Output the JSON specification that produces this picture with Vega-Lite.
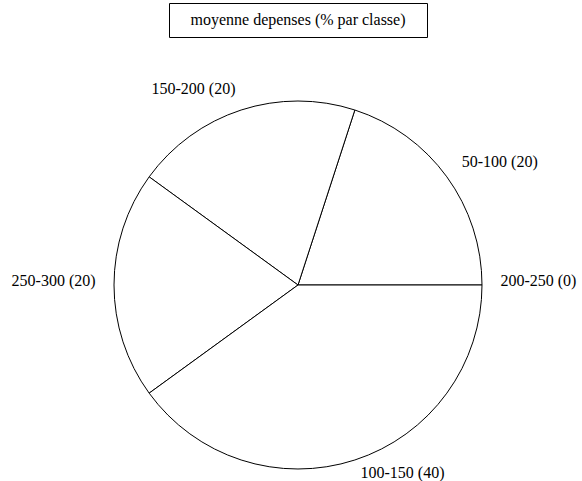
{
  "$schema": "https://vega.github.io/schema/vega-lite/v6.json",
  "padding": {"left": 11, "top": 2, "right": 0, "bottom": 0},
  "bounds": "flush",
  "center": true,
  "spacing": 52,
  "config": {
    "view": {"stroke": null},
    "font": "DejaVu Serif"
  },
  "vconcat": [
    {
      "width": 258,
      "height": 34,
      "view": {"stroke": "black", "strokeWidth": 1},
      "data": {"values": [{"t": "moyenne depenses (% par classe)"}]},
      "mark": {"type": "text", "font": "Liberation Serif", "fontSize": 16, "color": "black", "baseline": "middle", "align": "center"},
      "encoding": {"text": {"field": "t", "type": "nominal"}}
    },
    {
      "width": 568,
      "height": 392,
      "data": {
        "values": [
          {"classe": "200-250", "pct": 0, "ord": 1, "label": "200-250 (0)"},
          {"classe": "50-100", "pct": 20, "ord": 2, "label": "50-100 (20)"},
          {"classe": "150-200", "pct": 20, "ord": 3, "label": "150-200 (20)"},
          {"classe": "250-300", "pct": 20, "ord": 4, "label": "250-300 (20)"},
          {"classe": "100-150", "pct": 40, "ord": 5, "label": "100-150 (40)"}
        ]
      },
      "encoding": {
        "theta": {"field": "pct", "type": "quantitative", "stack": true, "scale": {"range": [1.5707963, -4.712389]}},
        "order": {"field": "ord", "type": "quantitative"}
      },
      "layer": [
        {
          "mark": {"type": "arc", "radius": 184, "fill": "white", "stroke": "black", "strokeWidth": 1}
        },
        {
          "mark": {
            "type": "text",
            "radius": 202.4,
            "dy": -4,
            "font": "Liberation Serif",
            "fontSize": 16,
            "color": "black",
            "baseline": "middle",
            "align": {"expr": "((datum.pct_start + datum.pct_end) / 2 < 25 || (datum.pct_start + datum.pct_end) / 2 > 75) ? 'left' : 'right'"}
          },
          "encoding": {"text": {"field": "label", "type": "nominal"}}
        }
      ]
    }
  ]
}
